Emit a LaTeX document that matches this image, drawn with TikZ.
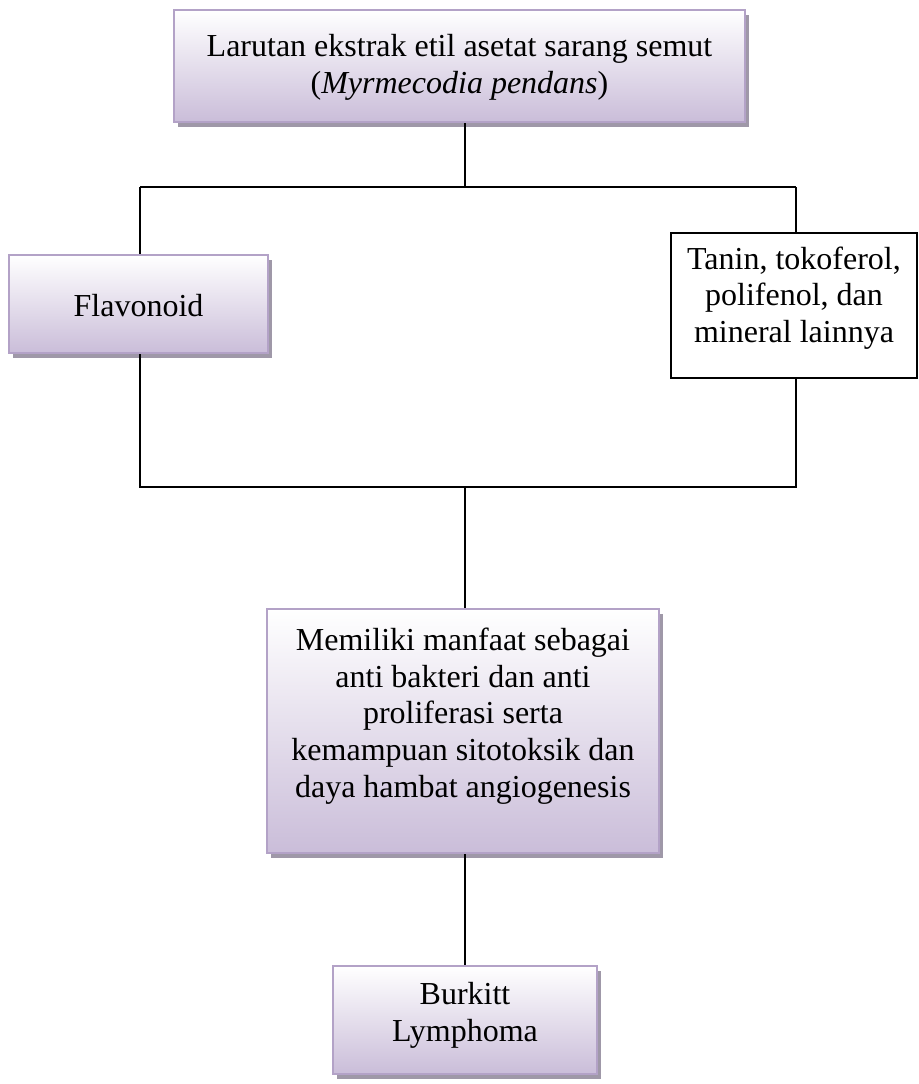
\documentclass[tikz,border=0pt]{standalone}
\usepackage{fontspec}
\setmainfont{Liberation Serif}
\usetikzlibrary{shadows}
\definecolor{lavb}{HTML}{B3A2C7}
\definecolor{lavt}{HTML}{FFFFFF}
\definecolor{lavm}{HTML}{EAE5F0}
\definecolor{lavbot}{HTML}{CABDD9}
\definecolor{shad}{HTML}{9F98A8}
\begin{document}
\begin{tikzpicture}[x=0.5pt,y=-0.5pt,
  pbox/.style={draw=lavb, line width=1pt, top color=lavt, middle color=lavm, bottom color=lavbot,
    drop shadow={shadow xshift=2pt, shadow yshift=-2.5pt, fill=shad, opacity=1}, inner sep=0pt},
  wbox/.style={draw=black, line width=0.75pt, fill=white, inner sep=0pt},
  txt/.style={align=center, font=\fontsize{16}{18.4}\selectfont, inner sep=0pt},
  conn/.style={line width=0.75pt, draw=black}]
\useasboundingbox (0,0) rectangle (918,1084);
% boxes
\node[pbox, minimum width=285.5pt, minimum height=56pt] (top) at (459.5,66) {};
\node[txt] (topt) at (459.5,67) {Larutan ekstrak etil asetat sarang semut\\(\textit{Myrmecodia pendans})};
\node[pbox, minimum width=129.5pt, minimum height=49pt] (flav) at (138.5,304) {};
\node[txt] (flavt) at (138.5,306) {Flavonoid};
\node[wbox, minimum width=123pt, minimum height=72.5pt] (tanin) at (794,305.5) {};
\node[txt] (tanint) at (794,298) {Tanin, tokoferol,\\polifenol, dan\\mineral lainnya};
\node[pbox, minimum width=196pt, minimum height=122pt] (mem) at (463,731) {};
\node[txt] (memt) at (463,716) {Memiliki manfaat sebagai\\anti bakteri dan anti\\proliferasi serta\\kemampuan sitotoksik dan\\daya hambat angiogenesis};
\node[pbox, minimum width=132pt, minimum height=54pt] (burk) at (465,1020) {};
\node[txt] (burkt) at (465,1015) {Burkitt\\Lymphoma};
% junctions
\coordinate (j1) at (465,187);
\coordinate (jl) at (140,187);
\coordinate (jr) at (796,187);
\coordinate (k1) at (465,487);
\coordinate (kl) at (140,487);
\coordinate (kr) at (796,487);
% connectors
\draw[conn] (top.south -| j1) -- (j1);
\draw[conn] (jl) -- (jr);
\draw[conn] (jl) -- (flav.north -| jl);
\draw[conn] (jr) -- (tanin.north -| jr);
\draw[conn] (flav.south -| kl) -- (kl) -- (kr) -- (tanin.south -| kr);
\draw[conn] (k1) -- (mem.north -| k1);
\draw[conn] (mem.south -| k1) -- (burk.north -| k1);
\end{tikzpicture}
\end{document}
